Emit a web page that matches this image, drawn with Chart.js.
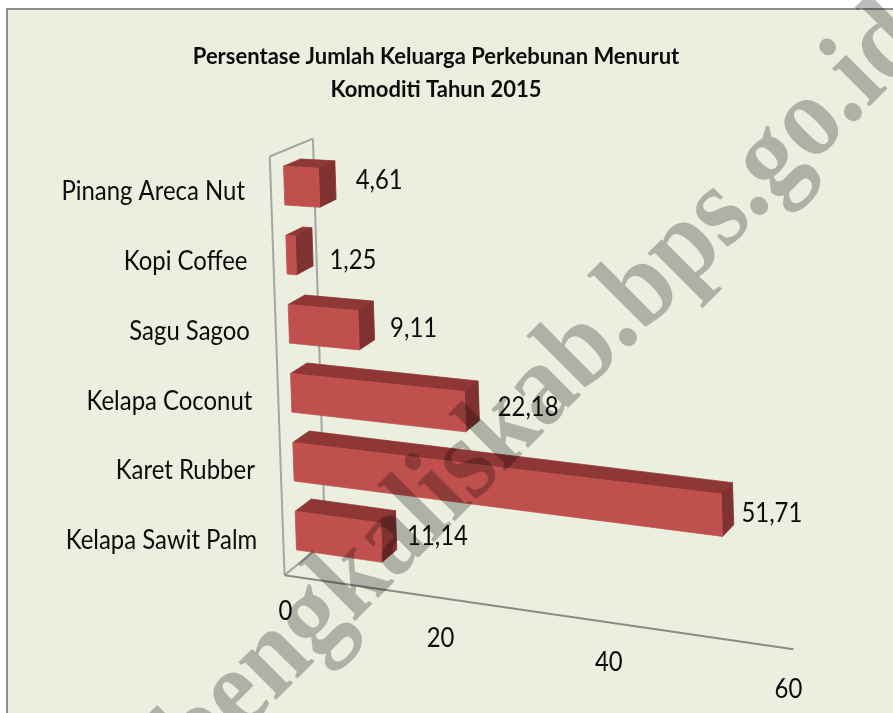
<!DOCTYPE html>
<html>
<head>
<meta charset="utf-8">
<title>Persentase Jumlah Keluarga Perkebunan</title>
<script src="https://cdn.jsdelivr.net/npm/chart.js@4"></script>
<style>
  html, body { margin: 0; padding: 0; background: #fff; }
  canvas { display: block; }
</style>
</head>
<body>
<canvas id="chart" width="893" height="713"></canvas>
<script>
// Data
const categories = ['Pinang Areca Nut', 'Kopi Coffee', 'Sagu Sagoo', 'Kelapa Coconut', 'Karet Rubber', 'Kelapa Sawit Palm'];
const values = [4.61, 1.25, 9.11, 22.18, 51.71, 11.14];
const valueLabels = ['4,61', '1,25', '9,11', '22,18', '51,71', '11,14'];
const xTicks = [0, 20, 40, 60];
const titleLines = ['Persentase Jumlah Keluarga Perkebunan Menurut', 'Komoditi Tahun 2015'];
const watermark = 'bengkaliskab.bps.go.id';

// Small per-label shifts, the source places these by hand
const labelNudge = [[6, -2], [3, 10], [1, 3], [9, 1], [-4, 3], [2, -1]];
const tickNudge = [[4, -5], [1, -1], [0, -1], [-2, -1]];

// Perspective: plot area corners on the front and back plane of the bars
const frontPlane = [[283, 151], [788, 178], [802, 640], [297, 565]];
const backPlane = [[300, 144], [799, 169], [813, 628], [313, 552]];
const NEAR = -0.78, FAR = 1.76;

function homography(q) {
  const [[x0, y0], [x1, y1], [x2, y2], [x3, y3]] = q;
  const sx = x0 - x1 + x2 - x3, sy = y0 - y1 + y2 - y3;
  const dx1 = x1 - x2, dx2 = x3 - x2, dy1 = y1 - y2, dy2 = y3 - y2;
  const det = dx1 * dy2 - dx2 * dy1;
  const g = (sx * dy2 - dx2 * sy) / det, h = (dx1 * sy - sx * dy1) / det;
  const a = x1 - x0 + g * x1, b = x3 - x0 + h * x3;
  const d = y1 - y0 + g * y1, e = y3 - y0 + h * y3;
  return (u, v) => {
    const w = g * u + h * v + 1;
    return [(a * u + b * v + x0) / w, (d * u + e * v + y0) / w];
  };
}
const front = homography(frontPlane);
const back = homography(backPlane);

// scale pixels -> picture pixels, depth 0 = bar front, 1 = bar back
function project(chart, px, py, depth) {
  const area = chart.chartArea;
  const u = (px - area.left) / area.width;
  const v = (py - area.top) / area.height;
  const f = front(u, v), b = back(u, v);
  return [f[0] + (b[0] - f[0]) * depth, f[1] + (b[1] - f[1]) * depth];
}

function poly(ctx, pts, fill) {
  ctx.beginPath();
  pts.forEach((p, i) => i ? ctx.lineTo(p[0], p[1]) : ctx.moveTo(p[0], p[1]));
  ctx.closePath();
  ctx.fillStyle = fill;
  ctx.strokeStyle = fill;
  ctx.lineWidth = 0.8;
  ctx.fill();
  ctx.stroke();
}

function line(ctx, a, b, color, width) {
  ctx.beginPath();
  ctx.moveTo(a[0], a[1]);
  ctx.lineTo(b[0], b[1]);
  ctx.strokeStyle = color;
  ctx.lineWidth = width;
  ctx.stroke();
}

// Lato stands in for Calibri: taller glyphs squeezed to the same width
function labelText(ctx, text, x, y) {
  ctx.fillText(text, x, y, ctx.measureText(text).width * 0.92);
}

const bar3d = {
  id: 'bar3d',
  beforeDraw(chart) {
    const { ctx, width, height } = chart;
    ctx.save();
    ctx.fillStyle = '#fff';
    ctx.fillRect(0, 0, width, height);
    ctx.fillStyle = '#ebefdf';
    ctx.fillRect(7, 9, width, height);
    ctx.strokeStyle = '#8f8f8f';
    ctx.lineWidth = 2;
    ctx.strokeRect(7, 9, width + 10, height + 10);
    ctx.restore();
  },
  beforeDatasetsDraw(chart) {
    // walls of the 3d box
    const { ctx, chartArea: a } = chart;
    const wall = '#a3a6a3', floor = '#8a8c88';
    ctx.save();
    const nt = project(chart, a.left, a.top, NEAR), nb = project(chart, a.left, a.bottom, NEAR);
    const ft = project(chart, a.left, a.top, FAR), fb = project(chart, a.left, a.bottom, FAR);
    const nr = project(chart, a.right, a.bottom, NEAR);
    line(ctx, nt, ft, wall, 2);
    line(ctx, ft, fb, wall, 2);
    line(ctx, nt, nb, wall, 2);
    line(ctx, nb, fb, wall, 2);
    line(ctx, nb, nr, floor, 2);
    ctx.restore();
  },
  beforeDatasetDraw(chart, args) {
    // paint each bar as a box instead of the flat rectangle
    const { ctx } = chart;
    const els = args.meta.data;
    ctx.save();
    els.forEach((el) => {
      const p = el.getProps(['x', 'y', 'base', 'height']);
      const t = p.y - p.height / 2, b = p.y + p.height / 2;
      const ftl = project(chart, p.base, t, 0), ftr = project(chart, p.x, t, 0);
      const fbl = project(chart, p.base, b, 0), fbr = project(chart, p.x, b, 0);
      const btl = project(chart, p.base, t, 1), btr = project(chart, p.x, t, 1);
      const bbr = project(chart, p.x, b, 1);
      poly(ctx, [ftl, btl, btr, ftr], '#8e3735');
      poly(ctx, [ftr, btr, bbr, fbr], '#7f3230');
      poly(ctx, [ftl, ftr, fbr, fbl], '#c0504d');
    });
    ctx.restore();
    return false;
  },
  afterDatasetsDraw(chart) {
    const { ctx, scales, chartArea: a } = chart;
    ctx.save();

    // site watermark across the whole picture
    ctx.save();
    ctx.translate(199, 777);
    ctx.rotate(-Math.PI / 4);
    ctx.font = 'bold 106px "Liberation Serif"';
    const markWidth = ctx.measureText(watermark).width;
    ctx.font = 'bold 116px "Liberation Serif"';
    ctx.fillStyle = 'rgba(0,0,0,0.26)';
    ctx.textAlign = 'left';
    ctx.textBaseline = 'alphabetic';
    ctx.fillText(watermark, 0, 0, markWidth);
    ctx.restore();

    ctx.fillStyle = '#0c0c0c';
    ctx.font = '26px Lato';
    ctx.textBaseline = 'middle';

    // category labels beside the near wall
    ctx.textAlign = 'right';
    categories.forEach((c, i) => {
      const p = project(chart, a.left, scales.y.getPixelForValue(i), NEAR);
      labelText(ctx, c, p[0] - 26, p[1]);
    });

    // value axis labels below the floor edge
    ctx.textAlign = 'center';
    xTicks.forEach((t, i) => {
      const p = project(chart, scales.x.getPixelForValue(t), a.bottom, NEAR);
      labelText(ctx, String(t), p[0] - 3 + tickNudge[i][0], p[1] + 41 + tickNudge[i][1]);
    });

    // value labels right of each bar
    const els = chart.getDatasetMeta(0).data;
    els.forEach((el, i) => {
      const p = project(chart, el.x, el.y, 0);
      labelText(ctx, valueLabels[i], p[0] + 54 + labelNudge[i][0], p[1] - 5 + labelNudge[i][1]);
    });
    ctx.restore();
  }
};

new Chart(document.getElementById('chart'), {
  type: 'bar',
  data: {
    labels: categories,
    datasets: [{
      data: values,
      backgroundColor: '#c0504d',
      barPercentage: 0.56,
      categoryPercentage: 1
    }]
  },
  options: {
    indexAxis: 'y',
    responsive: false,
    animation: false,
    layout: { padding: { left: 0, right: 21, top: 0, bottom: 20 } },
    plugins: {
      legend: { display: false },
      tooltip: { enabled: false },
      title: {
        display: true,
        text: titleLines,
        color: '#0c0c0c',
        font: { family: 'Lato', size: 22, weight: 'bold', lineHeight: 1.5 },
        padding: { top: 40, bottom: 20 }
      }
    },
    scales: {
      x: { display: false, min: 0, max: 60, grid: { display: false } },
      y: { display: false, grid: { display: false } }
    }
  },
  plugins: [bar3d]
});
</script>
</body>
</html>
